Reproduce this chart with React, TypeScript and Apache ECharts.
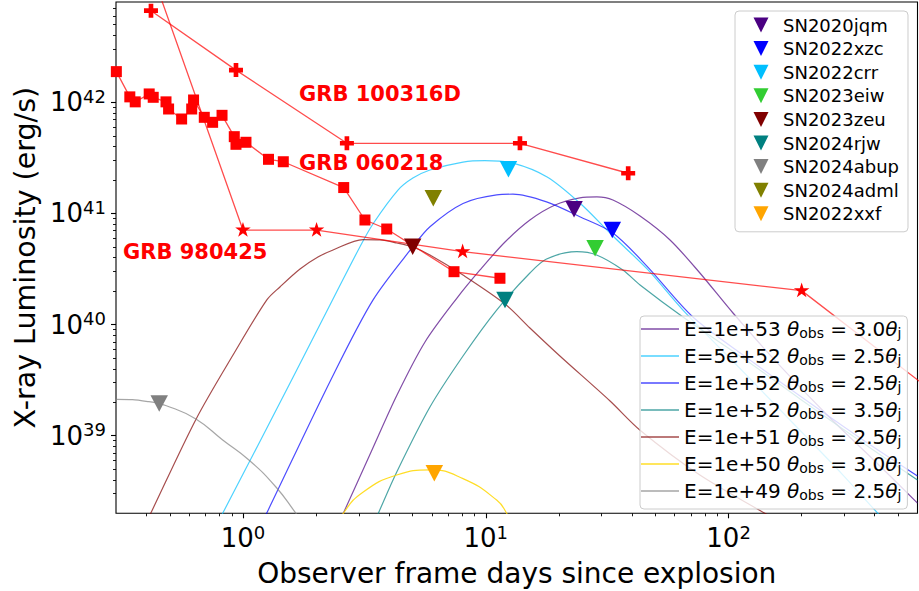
import React, { useEffect, useRef } from 'react';
import * as echarts from 'echarts';

// ---------- axes ----------
const X_MIN = 0.3;
const X_MAX = 600;
const Y_MIN = 2e38;
const Y_MAX = 8e42;
const xMajorTicks = [1, 10, 100];
const xMinorTicks = [0.4, 0.5, 0.6, 0.7, 0.8, 0.9, 2, 3, 4, 5, 6, 7, 8, 9, 20, 30, 40, 50, 60, 70, 80, 90, 200, 300, 400, 500];
const yMajorTicks = [1e39, 1e40, 1e41, 1e42];
const yMinorTicks = [3e38, 4e38, 5e38, 6e38, 7e38, 8e38, 9e38, 2e39, 3e39, 4e39, 5e39, 6e39, 7e39, 8e39, 9e39, 2e40, 3e40, 4e40, 5e40, 6e40, 7e40, 8e40, 9e40, 2e41, 3e41, 4e41, 5e41, 6e41, 7e41, 8e41, 9e41, 2e42, 3e42, 4e42, 5e42, 6e42, 7e42];
const xTitle = 'Observer frame days since explosion';
const yTitle = 'X-ray Luminosity (erg/s)';

// ---------- GRB light curves ----------
const grb060218 = [[0.301, 1.89e42], [0.342, 1.12e42], [0.36, 1.01e42], [0.411, 1.19e42], [0.427, 1.11e42], [0.482, 1.01e42], [0.494, 8.71e41], [0.559, 7.08e41], [0.615, 8.71e41], [0.626, 1.05e42], [0.693, 7.33e41], [0.75, 6.61e41], [0.82, 7.64e41], [0.921, 4.91e41], [0.936, 4.19e41], [1.029, 4.37e41], [1.274, 3.07e41], [1.466, 2.92e41], [2.6, 1.71e41], [3.18, 8.73e40], [3.91, 7.24e40], [7.4, 2.99e40], [11.44, 2.61e40]];
const grb100316D = [[0.418, 6.68e42], [0.936, 1.95e42], [2.68, 4.28e41], [13.83, 4.28e41], [38.6, 2.3e41]];
const grb980425 = [[0.38, 2.8e43], [1.0, 7.09e40], [2.01, 7.09e40], [8.03, 4.53e40], [200, 2.02e40], [1281, 8.85e38]];
const grbLabels = ['GRB 100316D', 'GRB 060218', 'GRB 980425'];

// ---------- SN upper limits ----------
const snNames = ['SN2020jqm', 'SN2022xzc', 'SN2022crr', 'SN2023eiw', 'SN2023zeu', 'SN2024rjw', 'SN2024abup', 'SN2024adml', 'SN2022xxf'];
const snColors = ['#4B0082', '#0000FF', '#00BFFF', '#32CD32', '#800000', '#008080', '#808080', '#808000', '#FFA500'];
const snDays = [23.1, 33.2, 12.4, 28.2, 5.0, 12.0, 0.452, 6.08, 6.14];
const snLimits = [1.09e41, 7.09e40, 2.5e41, 4.85e40, 5.02e40, 1.66e40, 1.95e39, 1.37e41, 4.58e38];

// ---------- off-axis jet models ----------
const modelNames = ['E=1e+53 θobs = 3.0θj', 'E=5e+52 θobs = 2.5θj', 'E=1e+52 θobs = 2.5θj', 'E=1e+52 θobs = 3.5θj', 'E=1e+51 θobs = 2.5θj', 'E=1e+50 θobs = 3.0θj', 'E=1e+49 θobs = 2.5θj'];
const modelColors = ['rgba(75,0,130,0.7)', 'rgba(0,191,255,0.7)', 'rgba(0,0,255,0.7)', 'rgba(0,128,128,0.7)', 'rgba(128,0,0,0.7)', 'rgba(255,215,0,0.85)', 'rgba(128,128,128,0.7)'];
const modelSmooth = [0.3, 0.3, 0.3, 0.3, 0.3, 0.5, 0.5];
const modelE53t30 = [[2.4, 1.39e38], [2.59, 2.0e38], [3.37, 7.12e38], [4.31, 2.32e39], [5.62, 6.96e39], [7.61, 1.73e40], [9.47, 3.1e40], [12.0, 5.53e40], [15.2, 8.73e40], [19.3, 1.19e41], [24.4, 1.38e41], [28.7, 1.41e41], [33.4, 1.32e41], [43.2, 9.48e40], [57.4, 5.77e40], [76.2, 2.91e40], [104.3, 1.27e40], [163, 4.24e39], [262, 1.44e39], [420, 5.33e38], [600, 2.47e38]];
const modelE52x5t25 = [[0.745, 1.33e38], [0.825, 2.0e38], [1.602, 3.3e39], [2.43, 1.96e40], [3.03, 4.99e40], [3.43, 8.03e40], [4.35, 1.62e41], [5.01, 2.08e41], [5.89, 2.46e41], [8.06, 2.9e41], [9.92, 2.99e41], [12.94, 2.84e41], [17.9, 2.13e41], [24.4, 1.24e41], [33.4, 6.26e40], [46.6, 3.1e40], [64.9, 1.35e40], [111, 4.06e39], [184, 1.3e39], [296, 4.42e38], [412, 2.0e38], [485, 1.39e38]];
const modelE52t25 = [[1.153, 1.39e38], [1.252, 2.0e38], [2.3, 3.17e39], [3.43, 1.66e40], [5.01, 5.02e40], [5.89, 7.6e40], [8.06, 1.23e41], [11.09, 1.47e41], [12.94, 1.49e41], [17.8, 1.27e41], [24.4, 9.34e40], [33.4, 6.67e40], [46.1, 3.36e40], [71.3, 1.17e40], [122.5, 4.8e39], [197, 2.27e39], [348, 9.52e38], [600, 4.33e38]];
const modelE52t35 = [[3.37, 1.41e38], [3.61, 2.0e38], [4.3, 4.71e38], [5.89, 1.81e39], [8.06, 5.21e39], [11.09, 1.35e40], [15.2, 2.91e40], [17.8, 3.89e40], [23.7, 4.53e40], [28.6, 4.23e40], [36.7, 3.1e40], [43.2, 2.27e40], [64.9, 1.17e40], [122.5, 4.51e39], [197, 2.14e39], [348, 8.95e38], [600, 3.99e38]];
const modelE51t25 = [[0.359, 1.02e38], [0.417, 2.0e38], [0.64, 1.4e39], [0.91, 5.32e39], [1.252, 1.66e40], [1.42, 2.18e40], [1.718, 3.16e40], [2.036, 4.05e40], [2.35, 4.69e40], [3.12, 5.82e40], [3.67, 5.77e40], [4.3, 5.42e40], [5.01, 4.99e40], [5.89, 4.23e40], [8.06, 2.79e40], [12.0, 1.53e40], [15.2, 9.31e39], [20.2, 5.21e39], [32.5, 2.05e39], [43.2, 1.12e39], [76.2, 4.42e38], [141, 2.0e38], [179, 1.47e38]];
const modelE50t30 = [[2.42, 1.41e38], [2.59, 2.0e38], [3.13, 3.11e38], [4.3, 4.42e38], [5.89, 4.91e38], [8.06, 4.1e38], [11.09, 2.63e38], [12.19, 2.0e38], [13.19, 1.41e38]];
const modelE49t25 = [[0.27, 2.11e39], [0.301, 2.12e39], [0.41, 2.02e39], [0.496, 1.82e39], [0.64, 1.41e39], [0.825, 9.14e38], [1.058, 6.04e38], [1.367, 3.45e38], [1.653, 2.0e38], [1.888, 1.36e38]];
const modelData = [modelE53t30, modelE52x5t25, modelE52t25, modelE52t35, modelE51t25, modelE50t30, modelE49t25];

// ---------- styling ----------
const FONT = 'DejaVu Sans';
const TRI = 'path://M0,0L20,0L10,20Z';
const PLUS = 'path://M2,0H4V2H6V4H4V6H2V4H0V2H2Z';
const STAR = 'path://M10,0L12.245,6.91L19.511,6.91L13.633,11.18L15.878,18.09L10,13.82L4.122,18.09L6.367,11.18L0.489,6.91L7.755,6.91Z';
const GRB_LINE = 'rgba(255,0,0,0.7)';
const GRB_MARK = '#ff0000';

const powFmt = (v: number) => '10{sup|' + Math.round(Math.log10(v)) + '}';
const tickLabel = {
  color: '#000',
  fontSize: 26,
  lineHeight: 30,
  fontFamily: FONT,
  rich: { sup: { fontSize: 18, lineHeight: 18, verticalAlign: 'top', fontFamily: FONT, color: '#000' } },
};

function buildOption() {
  const modelSeries = modelNames.map((name, i) => ({
    type: 'line',
    name,
    data: modelData[i],
    smooth: modelSmooth[i],
    showSymbol: false,
    symbol: 'none',
    lineStyle: { color: modelColors[i], width: 1.2 },
    itemStyle: { color: modelColors[i] },
    z: 2,
    silent: true,
  }));
  const grbSeries = [
    { name: grbLabels[0], data: grb100316D, symbol: PLUS, symbolSize: 14 },
    { name: grbLabels[1], data: grb060218, symbol: 'rect', symbolSize: 11 },
    { name: grbLabels[2], data: grb980425, symbol: STAR, symbolSize: [15.5, 14.7], symbolOffset: [0, -0.7] },
  ].map((s) => ({
    type: 'line',
    ...s,
    showSymbol: true,
    showAllSymbol: true,
    lineStyle: { color: GRB_LINE, width: 1.3 },
    itemStyle: { color: GRB_MARK },
    z: 3,
    silent: true,
  }));
  const snSeries = snNames.map((name, i) => ({
    type: 'scatter',
    name,
    data: [[snDays[i], snLimits[i]]],
    symbol: TRI,
    symbolSize: [17.5, 16.5],
    itemStyle: { color: snColors[i], opacity: 1 },
    z: 4,
    silent: true,
  }));

  return {
    animation: false,
    backgroundColor: '#ffffff',
    textStyle: { fontFamily: FONT },
    grid: {
      left: 116, top: 2, right: 1.5, bottom: 77.7,
      show: true, borderColor: '#000', borderWidth: 1.1, backgroundColor: 'transparent',
      containLabel: false, outerBoundsMode: 'none',
    },
    xAxis: [
      {
        type: 'log', min: X_MIN, max: X_MAX, position: 'bottom', gridIndex: 0,
        name: xTitle, nameLocation: 'middle', nameGap: 46, nameMoveOverlap: false,
        nameTextStyle: { fontSize: 28, color: '#000', fontFamily: FONT, lineHeight: 28 },
        axisLine: { show: false }, splitLine: { show: false }, minorTick: { show: false }, minorSplitLine: { show: false },
        axisTick: { show: true, inside: false, length: 5, lineStyle: { color: '#000', width: 1.1 }, customValues: xMajorTicks },
        axisLabel: { show: true, margin: 10, customValues: xMajorTicks, formatter: powFmt, ...tickLabel },
      },
      {
        type: 'log', min: X_MIN, max: X_MAX, position: 'bottom', gridIndex: 0, offset: 0,
        axisLine: { show: false }, splitLine: { show: false }, axisLabel: { show: false },
        axisTick: { show: true, inside: false, length: 3, lineStyle: { color: '#000', width: 0.9 }, customValues: xMinorTicks },
      },
    ],
    yAxis: [
      {
        type: 'log', min: Y_MIN, max: Y_MAX, position: 'left', gridIndex: 0,
        name: yTitle, nameLocation: 'middle', nameGap: 77, nameMoveOverlap: false,
        nameTextStyle: { fontSize: 28.5, color: '#000', fontFamily: FONT, lineHeight: 28 },
        axisLine: { show: false }, splitLine: { show: false }, minorTick: { show: false }, minorSplitLine: { show: false },
        axisTick: { show: true, inside: false, length: 5, lineStyle: { color: '#000', width: 1.1 }, customValues: yMajorTicks },
        axisLabel: { show: true, margin: 10, customValues: yMajorTicks, formatter: powFmt, ...tickLabel },
      },
      {
        type: 'log', min: Y_MIN, max: Y_MAX, position: 'left', gridIndex: 0, offset: 0,
        axisLine: { show: false }, splitLine: { show: false }, axisLabel: { show: false },
        axisTick: { show: true, inside: false, length: 3, lineStyle: { color: '#000', width: 0.9 }, customValues: yMinorTicks },
      },
    ],
    legend: [
      {
        show: true, orient: 'vertical', left: 735, top: 11,
        padding: [5, 9, 9, 18.5], itemGap: 5.6, itemWidth: 15, itemHeight: 15,
        icon: TRI, data: snNames, selectedMode: false,
        backgroundColor: 'rgba(255,255,255,0.8)', borderColor: '#cccccc', borderWidth: 1, borderRadius: 4,
        itemStyle: { borderWidth: 0 },
        textStyle: { fontSize: 18, lineHeight: 18, color: '#000', fontFamily: FONT, padding: [0, 0, 0, 9.5] },
      },
      {
        show: true, orient: 'vertical', left: 640, top: 316,
        padding: [2, 6, 7, 1], itemGap: 5, itemWidth: 38, itemHeight: 1.5,
        icon: 'rect', data: modelNames, selectedMode: false,
        backgroundColor: 'rgba(255,255,255,0.8)', borderColor: '#cccccc', borderWidth: 1, borderRadius: 4,
        itemStyle: { borderWidth: 0 },
        formatter: (name: string) => name.replace('θobs', '{i|θ}{s|obs}').replace('θj', '{i|θ}{s|j}'),
        textStyle: {
          fontSize: 20, lineHeight: 22, color: '#000', fontFamily: FONT,
          rich: {
            i: { fontSize: 20, lineHeight: 22, fontStyle: 'italic', fontFamily: FONT, color: '#000' },
            s: { fontSize: 14, lineHeight: 10, verticalAlign: 'bottom', fontFamily: FONT, color: '#000' },
          },
        },
      },
    ],
    graphic: [
      { type: 'text', x: 299, y: 94, z: 10, silent: true, style: { text: grbLabels[0], fill: GRB_MARK, fontSize: 21, fontWeight: 'bold', fontFamily: FONT, verticalAlign: 'middle', align: 'left' } },
      { type: 'text', x: 299, y: 163, z: 10, silent: true, style: { text: grbLabels[1], fill: GRB_MARK, fontSize: 21, fontWeight: 'bold', fontFamily: FONT, verticalAlign: 'middle', align: 'left' } },
      { type: 'text', x: 123, y: 252, z: 10, silent: true, style: { text: grbLabels[2], fill: GRB_MARK, fontSize: 21, fontWeight: 'bold', fontFamily: FONT, verticalAlign: 'middle', align: 'left' } },
    ],
    series: [...modelSeries, ...grbSeries, ...snSeries],
  };
}

export default function App() {
  const ref = useRef<HTMLDivElement>(null);
  useEffect(() => {
    document.body.style.margin = '0';
    const chart = echarts.init(ref.current as HTMLDivElement, null, { renderer: 'svg' });
    chart.setOption(buildOption() as any);
    return () => chart.dispose();
  }, []);
  return <div ref={ref} style={{ width: 919, height: 591 }} />;
}
